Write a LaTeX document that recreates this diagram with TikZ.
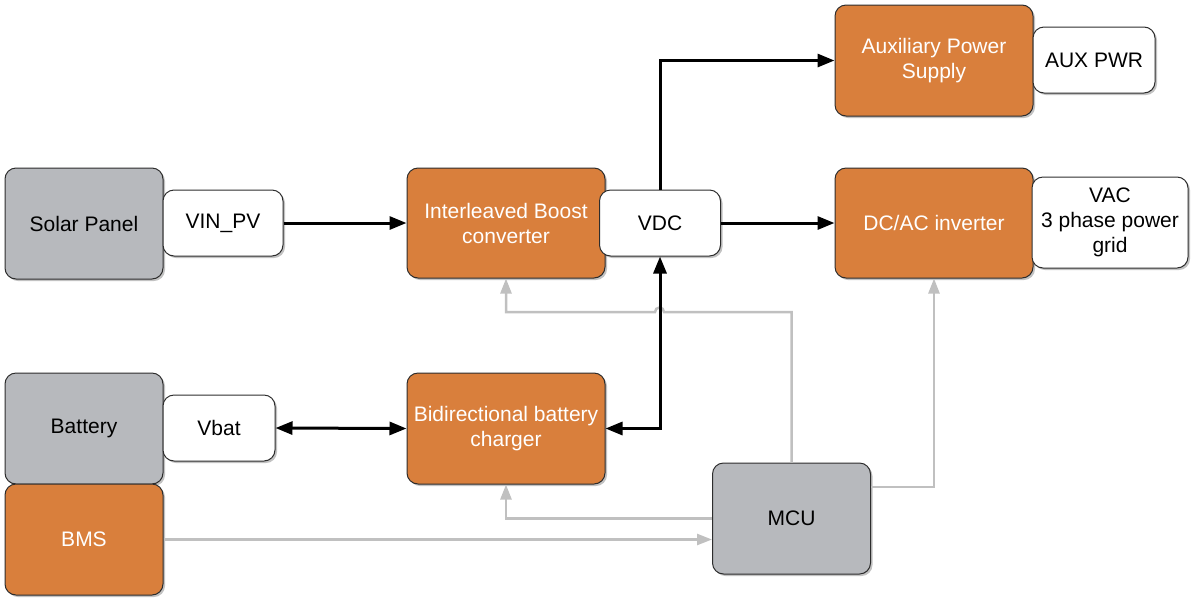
\documentclass[tikz,border=0pt]{standalone}
\usepackage{fontspec}
\setmainfont{Liberation Sans}
\usetikzlibrary{arrows.meta,shadows}
\definecolor{orng}{RGB}{217,127,60}
\definecolor{gryfill}{RGB}{183,185,189}
\definecolor{gryline}{RGB}{192,192,192}
\definecolor{edge}{RGB}{45,45,45}
\tikzset{
  base/.style={draw=edge, line width=1pt, rounded corners=11pt, align=center,
    font=\fontsize{21}{25}\selectfont, inner sep=0pt,
    drop shadow={shadow xshift=2pt, shadow yshift=-2pt, opacity=0.4, fill=black!60}},
  orangebox/.style={base, fill=orng, text=white},
  graybox/.style={base, fill=gryfill, text=black},
  whitebox/.style={base, fill=white, text=black},
  blk/.style={line width=3pt, draw=black, -{Triangle[length=17pt,width=13pt]}},
  blkboth/.style={line width=3pt, draw=black, {Triangle[length=17pt,width=13pt]}-{Triangle[length=17pt,width=13pt]}},
  gry/.style={line width=2.5pt, draw=gryline, -{Triangle[length=15pt,width=11pt]}},
}
\begin{document}
\begin{tikzpicture}[x=1pt,y=-1pt]
\useasboundingbox (0,0) rectangle (1199,606);
% big boxes
\node[graybox, minimum width=158pt, minimum height=111pt] (solar) at (84,223.5) {Solar Panel};
\node[orangebox, minimum width=198pt, minimum height=110pt] (boost) at (506,223) {Interleaved Boost\\converter};
\node[orangebox, minimum width=198pt, minimum height=111pt] (aux) at (934,60.5) {Auxiliary Power\\Supply};
\node[orangebox, minimum width=198pt, minimum height=110pt] (inv) at (934,223) {DC/AC inverter};
\node[graybox, minimum width=158pt, minimum height=111pt] (battery) at (84,428.5) {Battery};
\node[orangebox, minimum width=198pt, minimum height=111pt] (charger) at (506,428.5) {Bidirectional battery\\charger};
\node[orangebox, minimum width=158pt, minimum height=111pt] (bms) at (84,539.5) {BMS};
\node[graybox, minimum width=158pt, minimum height=111pt] (mcu) at (791.5,518.5) {MCU};
% small boxes
\node[whitebox, minimum width=120pt, minimum height=66pt] (vinpv) at (223,223) {VIN\_PV};
\node[whitebox, minimum width=121pt, minimum height=66pt] (vdc) at (660,223) {VDC};
\node[whitebox, minimum width=122pt, minimum height=66pt] (auxpwr) at (1094,60) {AUX PWR};
\node[whitebox, minimum width=156pt, minimum height=91pt] (vac) at (1110,222.5) {VAC\\3 phase power\\grid};
\node[whitebox, minimum width=112pt, minimum height=66pt] (vbat) at (219,428) {Vbat};
% coordinates
\coordinate (g1) at (791.5,312);
\coordinate (hopR) at (664,312);
\coordinate (g2) at (506,312);
% gray control lines
\draw[gry] (mcu.north) -- (g1) -- (hopR) arc[start angle=0,end angle=180,radius=4.5pt] -- (g2) -- (boost.south);
\draw[gry] ([yshift=31.5pt]mcu.east) -| (inv.south);
\draw[gry] (mcu.west) -| (charger.south);
\draw[gry] (bms.east) -- (bms.east -| mcu.west);
% black power lines
\draw[blk] (vinpv.east) -- (boost.west);
\draw[blk] (vdc.north) |- (aux.west);
\draw[blk] (vdc.east) -- (inv.west);
\draw[blkboth] (charger.east) -| (vdc.south);
\draw[blkboth] (vbat.east) -- (charger.west);
\end{tikzpicture}
\end{document}
